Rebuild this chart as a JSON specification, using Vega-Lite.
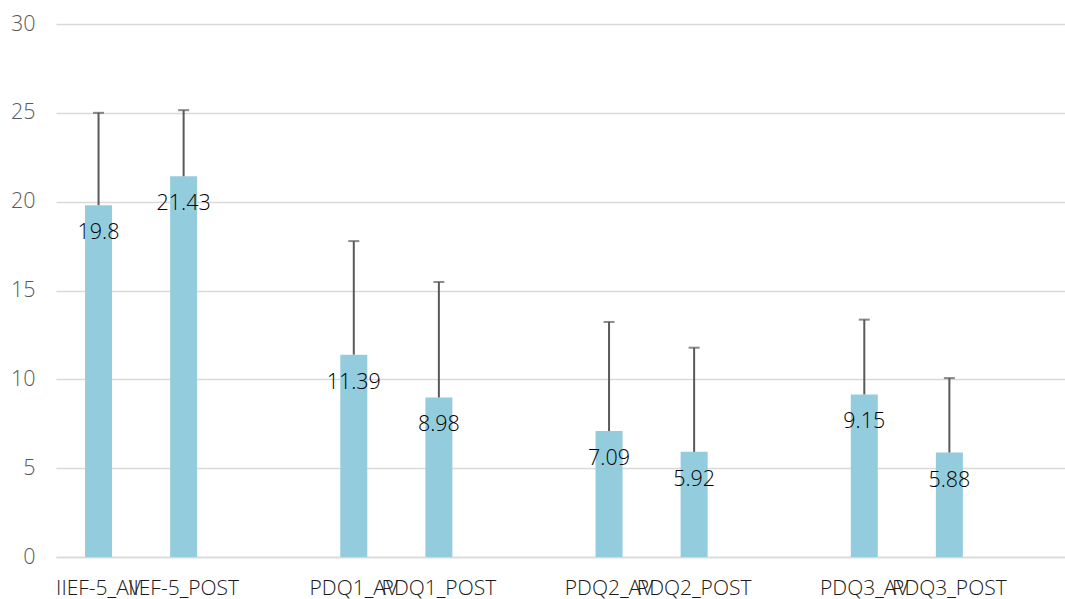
{
  "$schema": "https://vega.github.io/schema/vega-lite/v6.json",
  "autosize": {"type": "none"},
  "padding": {"left": 56, "top": 24, "right": 0, "bottom": 42},
  "width": 1009,
  "height": 533,
  "background": "white",
  "config": {"view": {"stroke": null}, "font": "Open Sans"},
  "data": {"values": [
    {"cat": "IIEF-5_AV", "value": 19.8, "upper": 25.0},
    {"cat": "IIEF-5_POST", "value": 21.43, "upper": 25.15},
    {"cat": "PDQ1_AV", "value": 11.39, "upper": 17.78},
    {"cat": "PDQ1_POST", "value": 8.98, "upper": 15.48},
    {"cat": "PDQ2_AV", "value": 7.09, "upper": 13.23},
    {"cat": "PDQ2_POST", "value": 5.92, "upper": 11.78},
    {"cat": "PDQ3_AV", "value": 9.15, "upper": 13.36},
    {"cat": "PDQ3_POST", "value": 5.88, "upper": 10.07}
  ]},
  "encoding": {
    "x": {
      "field": "cat", "type": "nominal", "sort": null,
      "scale": {
        "domain": ["IIEF-5_AV", "IIEF-5_POST", "_1", "PDQ1_AV", "PDQ1_POST", "_2", "PDQ2_AV", "PDQ2_POST", "_3", "PDQ3_AV", "PDQ3_POST", "_4"],
        "range": [0, 1021], "paddingInner": 0, "paddingOuter": 0
      },
      "axis": {
        "title": null, "labelAngle": 0, "labelOverlap": false, "labelLimit": 0,
        "labelExpr": "substring(datum.value,0,1)=='_' ? '' : datum.value",
        "ticks": false, "domain": true, "domainColor": "#d9d9d9", "domainWidth": 1.5,
        "labelPadding": 20, "labelFontSize": 21, "labelColor": "#1a1a1a", "labelFont": "Open Sans",
        "labelFontWeight": 300
      }
    }
  },
  "layer": [
    {
      "mark": {"type": "bar", "width": 27, "color": "#93CDDD"},
      "encoding": {
        "y": {
          "field": "value", "type": "quantitative",
          "scale": {"domain": [0, 30], "nice": false},
          "axis": {
            "title": null, "values": [0, 5, 10, 15, 20, 25, 30], "ticks": false, "domain": false,
            "grid": true, "gridColor": "#d9d9d9", "gridWidth": 1.5,
            "labelPadding": 21, "labelFontSize": 21.5, "labelColor": "#595959", "labelFont": "Open Sans",
            "labelFontWeight": 300
          }
        }
      }
    },
    {
      "mark": {"type": "rule", "color": "#595959", "strokeWidth": 2},
      "encoding": {
        "y": {"field": "value", "type": "quantitative"},
        "y2": {"field": "upper"}
      }
    },
    {
      "mark": {"type": "tick", "color": "#595959", "size": 11, "thickness": 2},
      "encoding": {
        "y": {"field": "upper", "type": "quantitative"}
      }
    },
    {
      "mark": {"type": "text", "baseline": "middle", "dy": 28, "fontSize": 21.5, "fontWeight": 300, "color": "#000000", "font": "Open Sans"},
      "encoding": {
        "y": {"field": "value", "type": "quantitative"},
        "text": {"field": "value", "type": "quantitative"}
      }
    }
  ]
}
